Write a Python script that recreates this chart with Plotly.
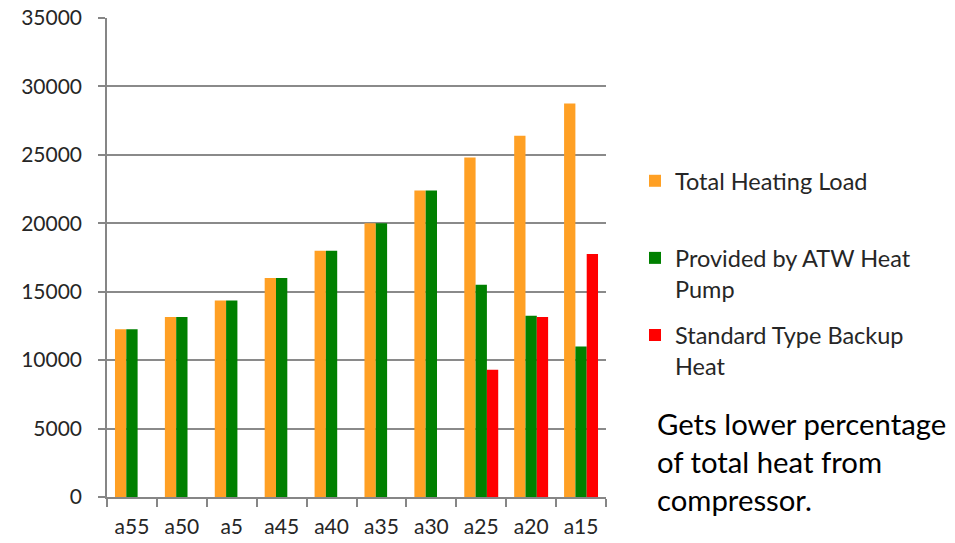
import plotly.graph_objects as go

categories = ["a55", "a50", "a5", "a45", "a40", "a35", "a30", "a25", "a20", "a15"]
total_load = [12250, 13150, 14350, 16000, 18000, 20000, 22400, 24800, 26400, 28750]
atw_heat_pump = [12250, 13150, 14350, 16000, 18000, 20000, 22400, 15500, 13250, 11000]
backup_heat = [0, 0, 0, 0, 0, 0, 0, 9300, 13150, 17750]

series_names = ["Total Heating Load<br> ", "Provided by ATW Heat<br>Pump", "Standard Type Backup<br>Heat"]
series_colors = ["#FFA024", "#008000", "#FF0000"]
y_ticks = [0, 5000, 10000, 15000, 20000, 25000, 30000, 35000]
y_tick_labels = ["0", "5000", "10000", "15000", "20000", "25000", "30000", "35000"]
note_text = "Gets lower percentage<br>of total heat from<br>compressor."

FONT = "Lato, 'Open Sans', sans-serif"

fig = go.Figure()
for name, vals, col in zip(series_names, [total_load, atw_heat_pump, backup_heat], series_colors):
    fig.add_trace(go.Bar(x=categories, y=vals, name=name, marker_color=col,
                         marker_line_width=0, legendgroup=name))

fig.update_layout(
    width=955, height=543,
    margin=dict(l=107, r=349, t=18, b=46, autoexpand=False),
    paper_bgcolor="white", plot_bgcolor="white",
    barmode="group", bargap=0.32, bargroupgap=0,
    font=dict(family=FONT, size=20, color="#404040"),
    legend=dict(
        xref="container", yref="container",
        x=635 / 955, y=1 - 159 / 543, xanchor="left", yanchor="top",
        font=dict(family=FONT, size=23.5, color="#262626"),
        valign="top", tracegroupgap=13, itemclick=False,
        bgcolor="rgba(0,0,0,0)",
    ),
    showlegend=True,
)
fig.update_xaxes(
    type="category", showgrid=False, showline=True, linecolor="#868686", linewidth=1.5,
    ticks="outside", tickson="boundaries", ticklen=8, tickcolor="#868686", tickwidth=1.5,
    tickfont=dict(family=FONT, size=21, color="#262626"), ticklabelstandoff=10,
    automargin=False,
)
fig.update_yaxes(
    range=[0, 35000], tickvals=y_ticks, ticktext=y_tick_labels,
    showgrid=True, gridcolor="#8a8a8a", gridwidth=1.5,
    showline=True, linecolor="#868686", linewidth=1.5,
    ticks="outside", ticklen=7, tickcolor="#868686", tickwidth=1.5,
    tickfont=dict(family=FONT, size=21, color="#262626"), ticklabelstandoff=12,
    zeroline=False, automargin=False,
)
fig.add_annotation(
    xref="paper", yref="paper", x=(655 - 107) / 499, y=1 - (404 - 18) / 479,
    xanchor="left", yanchor="top", align="left", showarrow=False,
    text=note_text, font=dict(family=FONT, size=29.3, color="#000000"),
)

fig.write_html("out.html")
